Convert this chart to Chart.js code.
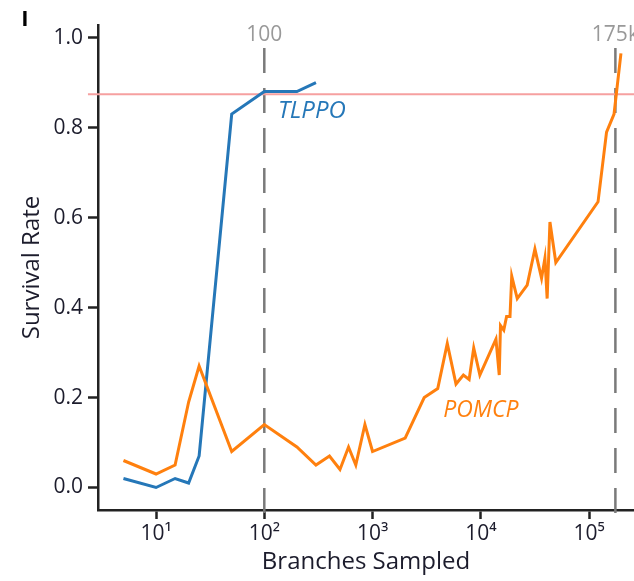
<!DOCTYPE html>
<html>
<head>
<meta charset="utf-8">
<script src="https://cdn.jsdelivr.net/npm/chart.js@4/dist/chart.umd.min.js"></script>
<style>
  body { margin: 0; background: #fff; }
  canvas { display: block; }
</style>
</head>
<body>
<canvas id="chart" width="634" height="581"></canvas>
<script>
// ================== Data ==================
const xTickVals = [10, 100, 1000, 10000, 100000];
const xTickLabels = ['10¹', '10²', '10³', '10⁴', '10⁵'];
const yTickVals = [0, 0.2, 0.4, 0.6, 0.8, 1.0];

const tlppoX = [5, 10, 15, 20, 25, 50, 100, 200, 300];
const tlppoY = [0.02, 0.0, 0.02, 0.01, 0.07, 0.83, 0.88, 0.88, 0.90];

const pomcpX = [5, 10, 15, 20, 25, 50, 100, 200, 300, 400, 500, 600, 700, 850,
    1000, 2000, 3000, 4000, 4900, 5900, 6900, 7800, 8600, 9800,
    13800, 14800, 15200, 16300, 17300, 18600, 19300,
    21700, 26800, 31600, 36400, 39100, 41000, 43500, 49300,
    121000, 145000, 170000, 197000];
const pomcpY = [0.06, 0.03, 0.05, 0.19, 0.27, 0.08, 0.14, 0.09, 0.05, 0.07, 0.04, 0.09, 0.05, 0.14,
    0.08, 0.11, 0.20, 0.22, 0.32, 0.23, 0.25, 0.24, 0.31, 0.25,
    0.33, 0.25, 0.36, 0.35, 0.38, 0.38, 0.47,
    0.42, 0.45, 0.53, 0.465, 0.51, 0.42, 0.59, 0.50,
    0.635, 0.79, 0.83, 0.965];

const humanLevel = 0.874;            // red reference line
const refLineVals = [100, 175000];   // dashed vertical markers
const refLineLabels = ['100', '175k'];

const seriesNames = ['TLPPO', 'POMCP'];
const seriesLabelX = [275, 10000];
const seriesLabelY = [0.837, 0.172];

const xMin = 2.91, xMax = 260000;
const yMin = -0.05, yMax = 1.028;

const BLUE = '#2577b8';
const ORANGE = '#ff800e';
const INK = '#1c1c2c';
const FONT = '"Open Sans", "Noto Sans", sans-serif';

// ================== Extra drawing (dashed markers, labels) ==================
const extras = {
    id: 'extras',
    beforeDatasetsDraw(chart) {
        const { ctx, chartArea, scales: { x } } = chart;
        ctx.save();
        refLineVals.forEach((v, i) => {
            const px = x.getPixelForValue(v);
            ctx.strokeStyle = '#7a7a7a';
            ctx.lineWidth = 2.5;
            ctx.setLineDash([25, 15]);
            ctx.beginPath();
            ctx.moveTo(px, chartArea.top + 23);
            ctx.lineTo(px, chartArea.bottom + 15);
            ctx.stroke();
            ctx.setLineDash([]);
            ctx.fillStyle = '#999';
            ctx.font = '21px ' + FONT;
            ctx.textAlign = 'center';
            ctx.textBaseline = 'middle';
            ctx.fillText(refLineLabels[i], px, 35);
        });
        ctx.restore();
    },
    afterDatasetsDraw(chart) {
        const { ctx, scales: { x, y } } = chart;
        ctx.save();
        ctx.textAlign = 'center';
        ctx.textBaseline = 'middle';
        seriesNames.forEach((name, i) => {
            ctx.font = 'italic ' + (i === 0 ? 24 : 23) + 'px ' + FONT;
            ctx.fillStyle = i === 0 ? BLUE : ORANGE;
            ctx.fillText(name, x.getPixelForValue(seriesLabelX[i]), y.getPixelForValue(seriesLabelY[i]));
        });
        // fragment of the panel letter at top-left
        ctx.fillStyle = '#000';
        ctx.font = 'bold 22px ' + FONT;
        ctx.fillText('I', 25, 20);
        ctx.restore();
    }
};

// ================== Chart ==================
new Chart(document.getElementById('chart'), {
    type: 'line',
    data: {
        datasets: [
            {
                label: 'TLPPO',
                data: tlppoX.map((v, i) => ({ x: v, y: tlppoY[i] })),
                borderColor: BLUE,
                borderWidth: 3,
                pointRadius: 0,
                tension: 0,
                order: 1
            },
            {
                label: 'POMCP',
                data: pomcpX.map((v, i) => ({ x: v, y: pomcpY[i] })),
                borderColor: ORANGE,
                borderWidth: 3,
                pointRadius: 0,
                tension: 0,
                order: 0
            },
            {
                label: 'human',
                data: [{ x: 2.35, y: humanLevel }, { x: xMax, y: humanLevel }],
                borderColor: '#f6a0a0',
                borderWidth: 2,
                pointRadius: 0,
                clip: false,
                order: 2
            }
        ]
    },
    options: {
        responsive: false,
        animation: false,
        layout: { padding: { top: 25, right: 0, left: 0, bottom: 0 } },
        plugins: {
            legend: { display: false },
            tooltip: { enabled: false }
        },
        scales: {
            x: {
                type: 'logarithmic',
                min: xMin,
                max: xMax,
                afterBuildTicks: s => { s.ticks = xTickVals.map(v => ({ value: v })); },
                afterFit: s => { s.height = 71; },
                ticks: {
                    autoSkip: false,
                    maxRotation: 0,
                    padding: 2,
                    color: INK,
                    font: { family: FONT, size: 21 },
                    callback: v => xTickLabels[xTickVals.indexOf(v)]
                },
                grid: { drawOnChartArea: false, drawTicks: true, tickLength: 9, tickWidth: 2.5, tickColor: '#222' },
                border: { display: true, color: '#222', width: 2.5 },
                title: {
                    display: true,
                    text: 'Branches Sampled',
                    color: INK,
                    font: { family: FONT, size: 24 },
                    padding: { top: 0, bottom: 4 }
                }
            },
            y: {
                min: yMin,
                max: yMax,
                afterBuildTicks: s => { s.ticks = yTickVals.map(v => ({ value: v })); },
                afterFit: s => { s.width = 98; },
                ticks: {
                    padding: 5,
                    color: INK,
                    font: { family: FONT, size: 21 },
                    callback: v => v.toFixed(1)
                },
                grid: { drawOnChartArea: false, drawTicks: true, tickLength: 10, tickWidth: 2.5, tickColor: '#222' },
                border: { display: true, color: '#222', width: 2.5 },
                title: {
                    display: true,
                    text: 'Survival Rate',
                    color: INK,
                    font: { family: FONT, size: 24 },
                    padding: { top: 18, bottom: 0 }
                }
            }
        }
    },
    plugins: [extras]
});
</script>
</body>
</html>
